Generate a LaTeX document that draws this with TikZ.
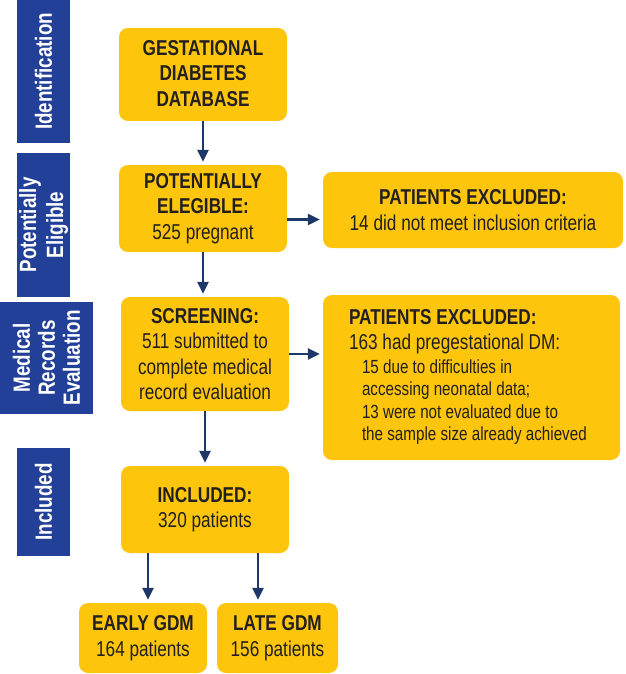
\documentclass[tikz,border=0pt]{standalone}
\usepackage{fontspec}
\setmainfont{Liberation Sans}[FakeStretch=0.8]
\usetikzlibrary{arrows.meta}
\definecolor{ybox}{RGB}{253,198,12}
\definecolor{bbar}{RGB}{35,64,152}
\definecolor{navy}{RGB}{30,55,105}
\definecolor{ink}{RGB}{35,31,32}
\newcommand{\mainsz}{\fontsize{21.5}{25.5}\selectfont}
\newcommand{\subsz}{\fontsize{19}{22.5}\selectfont}
\begin{document}
\begin{tikzpicture}[x=1pt,y=-1pt,
  box/.style={fill=ybox, rounded corners=9pt, text=ink, align=center, inner sep=0pt, font=\mainsz},
  bar/.style={fill=bbar, text=white, font=\bfseries\fontsize{23.5}{27}\selectfont, rotate=90, align=center, inner sep=0pt},
  flow/.style={draw=navy, line width=2.6pt, -{Triangle[length=12pt,width=11pt]}, shorten >=3pt}]
\useasboundingbox (0,0) rectangle (625,674);
% side bars
\node[bar, minimum width=143pt, minimum height=53pt] (b1) at (43.5,71.5) {Identification};
\node[bar, minimum width=144pt, minimum height=53pt] (b2) at (43.5,225) {Potentially\\Eligible};
\node[bar, minimum width=112pt, minimum height=93pt, font=\bfseries\fontsize{23.5}{25}\selectfont] (b3) at (46.5,358) {Medical\\Records\\Evaluation};
\node[bar, minimum width=108pt, minimum height=53pt] (b4) at (43.5,502) {Included};
% boxes
\node[box, minimum width=168pt, minimum height=93pt] (gdb) at (203,74.5) {\textbf{GESTATIONAL}\\\textbf{DIABETES}\\\textbf{DATABASE}\rule[-3pt]{0pt}{3pt}};
\node[box, minimum width=168pt, minimum height=87pt] (pe) at (203,208.5) {\textbf{POTENTIALLY}\\\textbf{ELEGIBLE:}\\525 pregnant\rule[-3pt]{0pt}{3pt}};
\node[box, minimum width=300pt, minimum height=76pt] (ex1) at (473,210) {\textbf{PATIENTS EXCLUDED:}\\14 did not meet inclusion criteria};
\node[box, minimum width=168pt, minimum height=114pt] (scr) at (205,354) {\textbf{SCREENING:}\\511 submitted to\\complete medical\\record evaluation};
\node[box, minimum width=297pt, minimum height=165pt] (ex2) at (471.5,377.5) {\makebox[245pt][l]{\begin{tabular}{@{}l@{}}
\textbf{PATIENTS EXCLUDED:}\\
163 had pregestational DM:\\[-2pt]
\subsz\hspace*{13pt}15 due to difficulties in\\[-3pt]
\subsz\hspace*{13pt}accessing neonatal data;\\[-3pt]
\subsz\hspace*{13pt}13 were not evaluated due to\\[-3pt]
\subsz\hspace*{13pt}the sample size already achieved
\end{tabular}}};
\node[box, minimum width=168pt, minimum height=87pt] (inc) at (205,509.5) {\textbf{INCLUDED:}\\320 patients};
\node[box, minimum width=128pt, minimum height=70pt] (early) at (143,638) {\textbf{EARLY GDM}\\164 patients};
\node[box, minimum width=121pt, minimum height=70pt] (late) at (277.5,638) {\textbf{LATE GDM}\\156 patients};
% arrows
\draw[flow] (gdb) -- (pe);
\draw[flow] ([yshift=-11pt]pe.east) -- ([yshift=-11pt]pe.east -| ex1.west);
\draw[flow] (pe.south) -- (pe.south |- scr.north);
\draw[flow] (scr.east) -- (scr.east -| ex2.west);
\draw[flow] (scr) -- (inc);
\draw[flow] ([xshift=-57pt]inc.south) -- ([xshift=-57pt]inc.south |- early.north);
\draw[flow] ([xshift=53pt]inc.south) -- ([xshift=53pt]inc.south |- late.north);
\end{tikzpicture}
\end{document}
